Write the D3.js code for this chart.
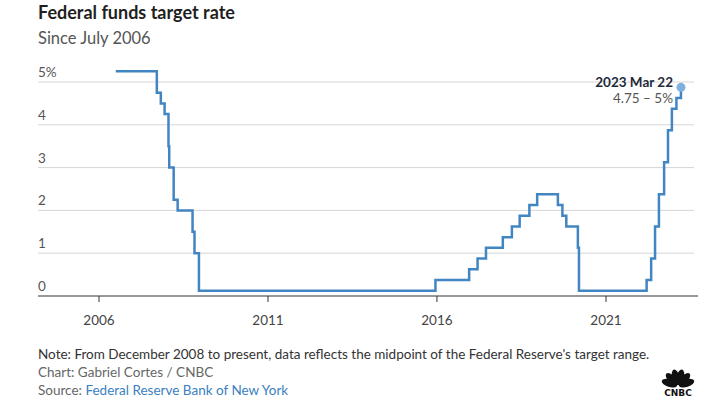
<!DOCTYPE html>
<html>
<head>
<meta charset="utf-8">
<script src="https://cdn.jsdelivr.net/npm/d3@7"></script>
<style>
  body { margin: 0; background: #fff; }
  svg { display: block; font-family: Lato, 'Open Sans', sans-serif; }
</style>
</head>
<body>
<div id="chart"></div>
<script>
// Dates of rate changes and the rate (midpoint of range after Dec 2008)
const changeDates = [
  '2006-07-01', '2007-09-18', '2007-10-31', '2007-12-11', '2008-01-22',
  '2008-01-30', '2008-03-18', '2008-04-30', '2008-10-08', '2008-10-29',
  '2008-12-16', '2015-12-16', '2016-12-14', '2017-03-15', '2017-06-14',
  '2017-12-13', '2018-03-21', '2018-06-13', '2018-09-26', '2018-12-19',
  '2019-07-31', '2019-09-18', '2019-10-30', '2020-03-03', '2020-03-15',
  '2022-03-16', '2022-05-04', '2022-06-15', '2022-07-27', '2022-09-21',
  '2022-11-02', '2022-12-14', '2023-02-01', '2023-03-22'
];
const rates = [
  5.25, 4.75, 4.5, 4.25, 3.5,
  3.0, 2.25, 2.0, 1.5, 1.0,
  0.125, 0.375, 0.625, 0.875, 1.125,
  1.375, 1.625, 1.875, 2.125, 2.375,
  2.125, 1.875, 1.625, 1.125, 0.125,
  0.375, 0.875, 1.625, 2.375, 3.125,
  3.875, 4.375, 4.625, 4.875
];
const yTicks = [0, 1, 2, 3, 4, 5];
const xTickYears = [2006, 2011, 2016, 2021];

const parse = d3.timeParse('%Y-%m-%d');
const data = changeDates.map((d, i) => ({ date: parse(d), rate: rates[i] }));

const width = 720;
const height = 404;

const svg = d3.select('#chart')
  .append('svg')
  .attr('width', width)
  .attr('height', height);

// Scales
const x = d3.scaleTime()
  .domain([new Date(2006, 0, 1), new Date(2021, 0, 1)])
  .range([99, 606]);

const y = d3.scaleLinear()
  .domain([0, 5])
  .range([296, 82]);

const left = 38;
const right = 694;

// Title block
svg.append('text')
  .attr('x', left)
  .attr('y', 19)
  .attr('fill', '#1f1f1f')
  .style('font-size', '18px')
  .style('font-weight', 'bold')
  .text('Federal funds target rate');

svg.append('text')
  .attr('x', left)
  .attr('y', 44)
  .attr('fill', '#555')
  .style('font-size', '16.5px')
  .text('Since July 2006');

// Gridlines and y labels
yTicks.forEach((t) => {
  if (t > 0) {
    svg.append('line')
      .attr('x1', left)
      .attr('x2', right)
      .attr('y1', y(t))
      .attr('y2', y(t))
      .attr('stroke', '#d6d6d6')
      .attr('stroke-width', 1);
  }
  svg.append('text')
    .attr('x', left)
    .attr('y', y(t) - 5)
    .attr('fill', '#555')
    .style('font-size', '13.5px')
    .text(t === 5 ? '5%' : t);
});

// X axis
svg.append('line')
  .attr('x1', left)
  .attr('x2', 698)
  .attr('y1', y(0))
  .attr('y2', y(0))
  .attr('stroke', '#333')
  .attr('stroke-width', 1.2);

xTickYears.forEach((yr) => {
  const xp = x(new Date(yr, 0, 1));
  svg.append('line')
    .attr('x1', xp)
    .attr('x2', xp)
    .attr('y1', y(0))
    .attr('y2', y(0) + 6)
    .attr('stroke', '#333');
  svg.append('text')
    .attr('x', xp)
    .attr('y', 325)
    .attr('text-anchor', 'middle')
    .attr('fill', '#444')
    .style('font-size', '13.5px')
    .text(yr);
});

// Rate line
const line = d3.line()
  .x((d) => x(d.date))
  .y((d) => y(d.rate))
  .curve(d3.curveStepAfter);

svg.append('path')
  .datum(data)
  .attr('fill', 'none')
  .attr('stroke', '#4285c3')
  .attr('stroke-width', 2.5)
  .attr('d', line);

// Last point marker and annotation
const last = data[data.length - 1];
svg.append('circle')
  .attr('cx', x(last.date))
  .attr('cy', y(last.rate))
  .attr('r', 4.5)
  .attr('fill', '#7fb1e0');

svg.append('text')
  .attr('x', 673)
  .attr('y', 87)
  .attr('text-anchor', 'end')
  .attr('fill', '#1e2a3a')
  .style('font-size', '13.5px')
  .style('font-weight', 'bold')
  .text('2023 Mar 22');

svg.append('text')
  .attr('x', 673)
  .attr('y', 103)
  .attr('text-anchor', 'end')
  .attr('fill', '#555')
  .style('font-size', '13.5px')
  .text('4.75 – 5%');

// Footer
const foot = svg.append('g').style('font-size', '13.5px');
foot.append('text')
  .attr('x', left)
  .attr('y', 359)
  .attr('fill', '#333')
  .text('Note: From December 2008 to present, data reflects the midpoint of the Federal Reserve\'s target range.');
foot.append('text')
  .attr('x', left)
  .attr('y', 377)
  .attr('fill', '#666')
  .text('Chart: Gabriel Cortes / CNBC');
const src = foot.append('text')
  .attr('x', left)
  .attr('y', 395)
  .attr('fill', '#666');
src.append('tspan').text('Source: ');
src.append('tspan').attr('fill', '#3a7fbf').text('Federal Reserve Bank of New York');

// CNBC peacock logo (simplified)
const logo = svg.append('g').attr('transform', 'translate(678,386)');
[-72, -43, -14, 14, 43, 72].forEach((a) => {
  logo.append('ellipse')
    .attr('cx', 0)
    .attr('cy', -9)
    .attr('rx', 3.8)
    .attr('ry', 8)
    .attr('fill', '#111')
    .attr('transform', `rotate(${a})`);
});
logo.append('text')
  .attr('x', 0)
  .attr('y', 10)
  .attr('text-anchor', 'middle')
  .attr('fill', '#111')
  .style('font-size', '9px')
  .style('font-weight', 'bold')
  .style('font-family', "'DejaVu Sans', sans-serif")
  .text('CNBC');
</script>
</body>
</html>
